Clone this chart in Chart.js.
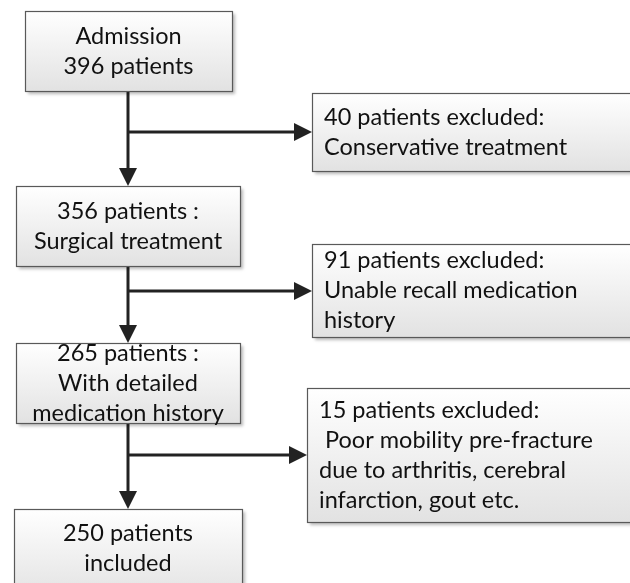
<!DOCTYPE html>
<html>
<head>
<meta charset="utf-8">
<script src="https://cdn.jsdelivr.net/npm/chart.js@4"></script>
<style>
  body { margin: 0; background: #fff; }
  canvas { display: block; }
</style>
</head>
<body>
<canvas id="flowChart" width="630" height="583"></canvas>
<script>
// flow steps (main column) and exclusions (right column)
const stepCounts = [396, 356, 265, 250];
const stepTexts = [
    ['Admission', '396 patients'],
    ['356 patients :', 'Surgical treatment'],
    ['265 patients :', 'With detailed', 'medication history'],
    ['250 patients', 'included']
];
const excludedCounts = [40, 91, 15];
const excludedTexts = [
    ['40 patients excluded:', 'Conservative treatment'],
    ['91 patients excluded:', 'Unable recall medication', 'history'],
    ['15 patients excluded:', ' Poor mobility pre-fracture', 'due to arthritis, cerebral', 'infarction, gout etc.']
];

// layout in chart units (x 0..630, y 0..583 top-down)
const stepBoxes = [[25, 11, 232, 91], [16, 186, 240, 266], [16, 343, 240, 423], [14, 509, 242, 600]];
const excludedBoxes = [[312, 93, 640, 171], [312, 244, 640, 337], [307, 388, 640, 522]];
const stemX = 128;
const branchY = [132, 291, 455];

const font = '23.5px Lato';
const lineH = 30;

function drawBox(ctx, x0, y0, x1, y1) {
    ctx.save();
    const g = ctx.createLinearGradient(0, y0, 0, y1);
    g.addColorStop(0, '#ffffff');
    g.addColorStop(1, '#e2e2e2');
    ctx.shadowColor = 'rgba(0,0,0,0.28)';
    ctx.shadowOffsetX = 3;
    ctx.shadowOffsetY = 3;
    ctx.shadowBlur = 3;
    ctx.fillStyle = g;
    ctx.fillRect(x0, y0, x1 - x0, y1 - y0);
    ctx.restore();
    ctx.save();
    ctx.strokeStyle = '#595959';
    ctx.lineWidth = 1.2;
    ctx.strokeRect(x0 + 0.5, y0 + 0.5, x1 - x0, y1 - y0);
    ctx.restore();
}

function arrowHead(ctx, x, y, dir) {
    // dir: 'down' or 'right', tip at (x, y)
    ctx.beginPath();
    if (dir == 'down') {
        ctx.moveTo(x, y);
        ctx.lineTo(x - 9, y - 18);
        ctx.lineTo(x + 9, y - 18);
    } else {
        ctx.moveTo(x, y);
        ctx.lineTo(x - 18, y - 9);
        ctx.lineTo(x - 18, y + 9);
    }
    ctx.closePath();
    ctx.fill();
}

const flowPlugin = {
    id: 'flow',
    afterDatasetsDraw(chart) {
        const ctx = chart.ctx;
        const sx = chart.scales.x, sy = chart.scales.y;
        const px = v => sx.getPixelForValue(v);
        const py = v => sy.getPixelForValue(v);

        // arrows
        ctx.save();
        ctx.strokeStyle = '#222';
        ctx.fillStyle = '#222';
        ctx.lineWidth = 3;
        for (let i = 0; i < stepBoxes.length - 1; i++) {
            const top = py(stepBoxes[i][3]);
            const tip = py(stepBoxes[i + 1][1]);
            ctx.beginPath();
            ctx.moveTo(px(stemX), top);
            ctx.lineTo(px(stemX), tip - 16);
            ctx.stroke();
            arrowHead(ctx, px(stemX), tip, 'down');
            const bx = px(excludedBoxes[i][0]);
            ctx.beginPath();
            ctx.moveTo(px(stemX), py(branchY[i]));
            ctx.lineTo(bx - 16, py(branchY[i]));
            ctx.stroke();
            arrowHead(ctx, bx, py(branchY[i]), 'right');
        }
        ctx.restore();

        // boxes + text
        ctx.save();
        ctx.font = font;
        ctx.textBaseline = 'middle';
        stepBoxes.forEach((b, i) => {
            drawBox(ctx, px(b[0]), py(b[1]), px(b[2]), py(b[3]));
            const lines = stepTexts[i];
            const cx = (px(b[0]) + px(b[2])) / 2;
            // last box is cut off at the bottom, centre it on its visible part
            const cy = i == stepBoxes.length - 1 ? py(b[1]) + 39 : (py(b[1]) + py(b[3])) / 2;
            ctx.textAlign = 'center';
            ctx.fillStyle = '#111';
            lines.forEach((t, j) => ctx.fillText(t, cx, cy + (j - (lines.length - 1) / 2) * lineH));
        });
        excludedBoxes.forEach((b, i) => {
            drawBox(ctx, px(b[0]), py(b[1]), px(b[2]), py(b[3]));
            const lines = excludedTexts[i];
            const cy = (py(b[1]) + py(b[3])) / 2;
            ctx.textAlign = 'left';
            ctx.fillStyle = '#111';
            lines.forEach((t, j) => ctx.fillText(t, px(b[0]) + 12, cy + (j - (lines.length - 1) / 2) * lineH));
        });
        ctx.restore();
    }
};

const ctx = document.getElementById('flowChart').getContext('2d');
const flowChart = new Chart(ctx, {
    type: 'scatter',
    data: {
        datasets: [{
            label: 'patients',
            data: stepCounts.map((c, i) => ({ x: stemX, y: (stepBoxes[i][1] + stepBoxes[i][3]) / 2 })),
            pointRadius: 0
        }]
    },
    options: {
        responsive: false,
        animation: false,
        layout: { padding: 0 },
        plugins: { legend: { display: false }, tooltip: { enabled: false } },
        scales: {
            x: { type: 'linear', min: 0, max: 630, display: false },
            y: { type: 'linear', min: 0, max: 583, reverse: true, display: false }
        }
    },
    plugins: [flowPlugin]
});
</script>
</body>
</html>
